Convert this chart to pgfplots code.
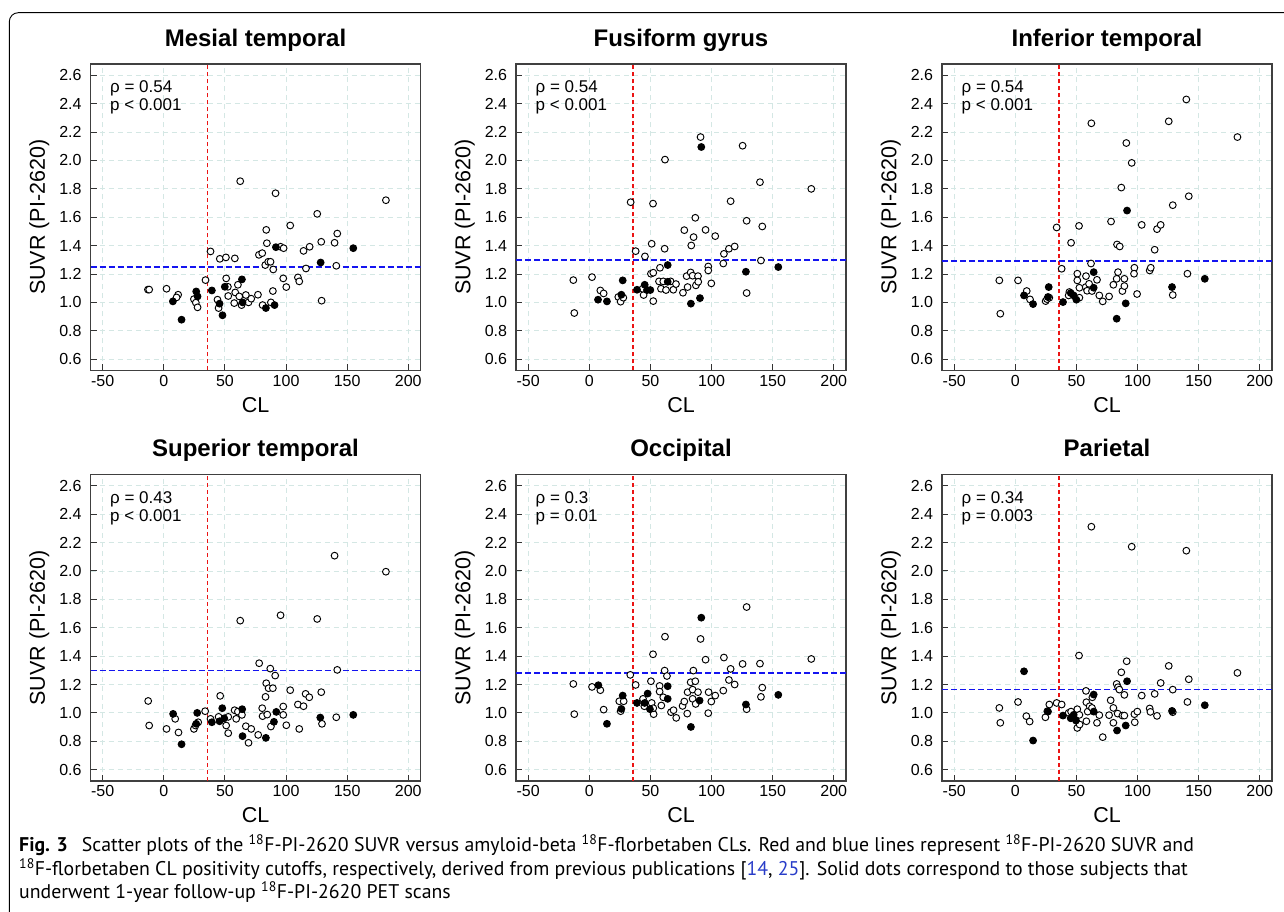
\documentclass[border=0pt]{standalone}
\usepackage{fontspec}
\setmainfont{Liberation Sans}
\newfontfamily\capfont{PT Sans}
\usepackage{pgfplots}
\pgfplotsset{compat=1.18}

\definecolor{gridc}{RGB}{212,231,228}
\definecolor{cutred}{RGB}{235,20,20}
\definecolor{cutblue}{RGB}{20,20,240}
\definecolor{refblue}{RGB}{40,60,200}

\newcommand{\tickf}{\fontsize{16}{19}\selectfont}
\newcommand{\statf}{\fontsize{17}{20}\selectfont}
\newcommand{\labf}{\fontsize{21.5}{25}\selectfont}
\newcommand{\titf}{\fontsize{24}{28}\selectfont\bfseries}
\newcommand{\capf}{\capfont\fontsize{19.8}{24}\selectfont}

\pgfplotsset{
  panel/.style={
    scale only axis, width=330pt, height=306.5pt,
    anchor=south west,
    xmin=-60, xmax=210, ymin=0.52, ymax=2.68,
    xtick={-50,0,50,100,150,200},
    ytick={0.6,0.8,1.0,1.2,1.4,1.6,1.8,2.0,2.2,2.4,2.6},
    yticklabel={\pgfmathprintnumber[fixed,fixed zerofill,precision=1]{\tick}},
    /pgf/number format/assume math mode=true,
    xtick pos=bottom, ytick pos=left,
    tick align=inside, major tick length=6pt,
    tick style={line width=1pt, color=black!80},
    axis line style={line width=1.3pt, color=black!75},
    ticklabel style={font=\tickf, inner sep=0pt},
    xticklabel style={anchor=north, yshift=-4.6pt},
    yticklabel style={anchor=east, xshift=-8.8pt},
    grid=major,
    major grid style={dash pattern=on 5pt off 4pt, color=gridc, line width=0.9pt},
    title style={at={(axis description cs:0.5,1)}, anchor=base, yshift=11.5pt, font=\titf},
    xlabel={CL}, ylabel={SUVR (PI-2620)},
    xlabel style={at={(axis description cs:0.5,-0.137)}, anchor=base, font=\labf},
    ylabel style={at={(axis description cs:-0.1385,0.5)}, anchor=base, font=\labf},
  },
  openm/.style={only marks, mark=*, mark size=3.4pt,
    mark options={draw=black, fill=white, line width=0.95pt}},
  fillm/.style={only marks, mark=*, mark size=3.4pt,
    mark options={draw=black, fill=black, line width=0.95pt}},
}

% red CL cutoff (vertical) and blue SUVR cutoff (horizontal)
\newcommand{\cutoffs}[2]{%
  \addplot[draw=cutred, line width=1.5pt, dash pattern=on 4pt off 3pt, forget plot] coordinates {(#1,0.52)(#1,2.68)};
  \addplot[draw=cutblue, line width=1.5pt, dash pattern=on 6pt off 3pt, forget plot] coordinates {(-60,#2)(210,#2)};
}
\newcommand{\stats}[2]{%
  \node[anchor=base west, font=\statf, inner sep=0pt, xshift=19.5pt, yshift=-28.7pt] at (rel axis cs:0,1) {ρ = #1};
  \node[anchor=base west, font=\statf, inner sep=0pt, xshift=19.5pt, yshift=-46.7pt] at (rel axis cs:0,1) {p #2};
}

\begin{document}
\begin{tikzpicture}[x=1pt,y=1pt]
\useasboundingbox (0,0) rectangle (1284,912);
\draw[line width=0.9pt, rounded corners=9pt] (9.3,-5) -- (9.3,899.3) -- (1295,899.3);

% ---------- Mesial temporal
\begin{axis}[panel, at={(90.5pt,541.5pt)}, title={Mesial temporal}]
\cutoffs{35.9}{1.25}
\addplot[openm] coordinates {
(-13,1.09)(-12,1.09)(2.2,1.096)(11.7,1.054)(10.4,1.035)(24.6,1.023)(26.2,0.998)(27.6,0.965)
(34.1,1.157)(38.2,1.359)(45.8,1.307)(50.8,1.317)(58.1,1.31)(43.9,1.019)(44.8,0.96)(51,1.169)
(52.4,1.11)(52.7,1.045)(57.6,0.995)(58.4,1.07)(60.6,1.124)(62.5,1.854)(61.7,1.042)(63.6,0.981)
(67.1,1.052)(69.3,1.0)(71.5,1.026)(77,1.054)(77.8,1.335)(80.5,1.347)(80.8,0.981)(83,1.263)
(83.8,1.511)(84.3,1.417)(85.4,1.286)(87.3,1.286)(87.6,1.0)(89.2,1.08)(89.5,1.232)(91.4,1.769)
(95.5,1.392)(98,1.382)(97.7,1.169)(100.2,1.108)(103.4,1.542)(109.7,1.176)(110.8,1.148)(114.3,1.363)
(116.3,1.239)(119.3,1.392)(125.5,1.624)(128.8,1.427)(129.1,1.012)(139.7,1.42)(141.9,1.485)
(141.1,1.258)(181.7,1.72)};
\addplot[fillm] coordinates {
(7.4,1.007)(14.5,0.878)(26.5,1.077)(27.6,1.042)(39.3,1.084)(45.6,0.991)(48.0,0.909)(49.9,1.11)
(63.9,1.162)(64.4,1.0)(83.5,0.96)(90.6,0.981)(91.7,1.389)(128.3,1.281)(155,1.382)};
\stats{0.54}{< 0.001}
\end{axis}

% ---------- Fusiform gyrus
\begin{axis}[panel, at={(516pt,541.5pt)}, title={Fusiform gyrus}]
\cutoffs{35.9}{1.30}
\addplot[openm] coordinates {
(-13.1,1.157)(-12.3,0.925)(2.2,1.178)(9,1.084)(11.7,1.063)(23.7,1.038)(25.6,1.005)(27.8,1.033)
(33.8,1.706)(37.9,1.361)(45.5,1.324)(44.4,1.052)(43.6,1.096)(51,1.413)(52.1,1.696)(50.4,1.202)
(52.3,1.209)(52.3,1.009)(57.8,1.244)(57,1.148)(58.6,1.096)(60.5,1.148)(62.7,1.087)(66.5,1.148)
(68.7,1.089)(70.9,1.129)(61.6,1.378)(61.9,2.006)(76.6,1.068)(77.7,1.509)(80.4,1.108)(79.6,1.185)
(82.9,1.211)(84.5,1.188)(83.4,1.401)(85.3,1.46)(86.7,1.596)(87.2,1.12)(88.9,1.185)(89.1,1.145)
(91,2.165)(95.1,1.511)(97.3,1.253)(97.3,1.225)(99.8,1.134)(103,1.467)(110.1,1.342)(109.6,1.274)
(114.2,1.378)(118.9,1.394)(115.6,1.713)(125.4,2.104)(128.7,1.575)(128.7,1.066)(139.6,1.847)
(141.5,1.535)(140.4,1.295)(181.6,1.8)};
\addplot[fillm] coordinates {
(7.1,1.019)(14.4,1.007)(26.2,1.054)(27.3,1.155)(39,1.089)(45.3,1.124)(47.2,1.087)(49.9,1.087)
(64.1,1.263)(64.1,1.145)(83.1,0.991)(90.5,1.03)(91.6,2.095)(128.1,1.216)(154.6,1.249)};
\stats{0.54}{< 0.001}
\end{axis}

% ---------- Inferior temporal
\begin{axis}[panel, at={(942pt,541.5pt)}, title={Inferior temporal}]
\cutoffs{35.9}{1.29}
\addplot[openm] coordinates {
(-13.1,1.155)(-12.3,0.92)(2.2,1.155)(9.3,1.08)(12,1.021)(24.8,1.009)(25.9,1.023)(27.8,1.033)
(33.8,1.528)(37.9,1.237)(45.6,1.42)(44.2,1.073)(43.6,1.049)(50.7,1.202)(50.7,1.155)(52.1,1.539)
(52.4,1.103)(52.4,1.033)(57.8,1.185)(57.6,1.108)(58.7,1.082)(60.3,1.131)(61.9,1.274)(62.2,2.262)
(62.7,1.08)(66.8,1.159)(68.7,1.049)(71.5,1.007)(76.7,1.042)(78.3,1.57)(80.2,1.124)(82.9,1.166)
(84,1.213)(83.2,1.408)(85.4,1.394)(86.7,1.809)(87.6,1.08)(89.2,1.166)(89.2,1.115)(90.8,2.123)
(95.2,1.983)(97.4,1.244)(97.1,1.202)(99.6,1.059)(103.4,1.546)(109.9,1.225)(110.8,1.244)(114,1.371)
(115.9,1.516)(118.9,1.546)(125.5,2.276)(128.8,1.685)(128.8,1.052)(139.9,2.43)(141.9,1.748)
(140.8,1.202)(181.7,2.165)};
\addplot[fillm] coordinates {
(7.1,1.049)(14.5,0.988)(27.3,1.108)(26.7,1.038)(39,1.002)(45.3,1.066)(47.7,1.049)(49.9,1.019)
(64.1,1.213)(64.1,1.103)(82.9,0.885)(90.3,0.993)(91.4,1.647)(128.2,1.108)(155,1.166)};
\stats{0.54}{< 0.001}
\end{axis}

% ---------- Superior temporal
\begin{axis}[panel, at={(90.5pt,131pt)}, title={Superior temporal}]
\cutoffs{35.9}{1.30}
\addplot[openm] coordinates {
(-12.8,1.084)(-12,0.911)(2.2,0.887)(9.3,0.958)(12,0.862)(24.6,0.887)(25.9,0.911)(28.1,0.934)
(33.8,1.012)(38.2,0.958)(46.1,1.12)(44.8,0.972)(51,0.911)(52.7,0.857)(52.7,0.972)(57.9,1.019)
(59.2,0.958)(60.6,1.009)(63.9,0.986)(62.5,1.65)(67.1,0.906)(69.3,0.789)(71.5,0.887)(77.2,0.845)
(78,1.35)(80.5,1.033)(80.8,0.977)(83.2,1.113)(83.8,1.209)(84.6,0.988)(85.7,1.174)(87.1,1.312)
(87.6,0.904)(89.2,1.174)(91.1,1.263)(95.5,1.688)(97.7,1.045)(97.7,0.986)(100.2,0.913)(103.4,1.16)
(109.7,1.059)(110.8,0.887)(114.3,1.047)(116,1.134)(119,1.11)(125.5,1.662)(128.8,1.146)(129.4,0.923)
(139.7,2.108)(141.9,1.303)(141.1,0.969)(181.7,1.995)};
\addplot[fillm] coordinates {
(7.6,0.993)(14.5,0.779)(26.5,0.923)(27.3,1.0)(39.3,0.934)(45.6,0.941)(47.8,1.033)(49.4,0.962)
(64.1,1.026)(64.4,0.836)(83.5,0.824)(90.1,0.937)(92,1.007)(128,0.967)(155,0.986)};
\stats{0.43}{< 0.001}
\end{axis}

% ---------- Occipital
\begin{axis}[panel, at={(516pt,131pt)}, title={Occipital}]
\cutoffs{35.9}{1.28}
\addplot[openm] coordinates {
(-13.1,1.204)(-12.3,0.991)(2.2,1.183)(9,1.16)(11.7,1.023)(24.5,1.082)(25.6,1.012)(28.1,1.082)
(33.5,1.268)(37.9,1.197)(43.9,1.099)(45,1.047)(50.4,1.223)(51,1.07)(52.1,1.413)(52.6,0.991)
(52.3,1.033)(57.5,1.19)(57.5,1.15)(58.9,1.052)(60.5,1.11)(61.6,1.298)(61.9,1.537)(63.5,1.26)
(66.8,1.005)(68.9,1.019)(71.1,0.965)(76.3,1.049)(77.7,1.08)(80.1,0.995)(80.4,1.146)(82.9,1.216)
(84.5,1.164)(85.1,1.298)(86.7,1.223)(84.5,1.099)(87,1.063)(88.9,1.146)(91,1.521)(95.1,1.375)
(97.3,0.998)(97.6,1.146)(99.8,1.08)(103,1.122)(110.1,1.39)(109.6,1.157)(114.2,1.232)(115.6,1.31)
(118.9,1.2)(125.4,1.345)(128.7,1.746)(128.7,1.026)(139.6,1.347)(141.5,1.178)(140.4,1.113)
(181.6,1.38)};
\addplot[fillm] coordinates {
(7.4,1.195)(14.4,0.923)(26.2,1.028)(27.3,1.122)(39,1.07)(45.3,1.07)(47.7,1.136)(49.6,1.026)
(64.1,1.188)(64.1,1.099)(83.1,0.901)(90.2,1.087)(91.6,1.671)(128.1,1.059)(154.6,1.127)};
\stats{0.3}{= 0.01}
\end{axis}

% ---------- Parietal
\begin{axis}[panel, at={(942pt,131pt)}, title={Parietal}]
\cutoffs{35.9}{1.165}
\addplot[openm] coordinates {
(-13.1,1.035)(-12.3,0.93)(2.2,1.077)(9,0.977)(11.7,0.939)(24.6,0.969)(26.2,1.012)(27.8,1.059)
(33.8,1.07)(37.9,1.059)(43.6,1.0)(45.6,1.009)(46.6,0.969)(50.7,1.026)(50.7,0.894)(52.4,0.986)
(52.6,0.918)(52.1,1.404)(57.8,1.155)(58.1,1.075)(58.1,0.941)(59.2,1.009)(60.8,1.047)(62.2,2.312)
(63,1.11)(62.7,1.035)(66.8,0.93)(68.7,0.984)(71.5,0.829)(76.7,0.984)(78,1.089)(80.2,1.035)
(80.2,0.93)(82.9,1.204)(84,1.181)(83.7,0.995)(86.7,1.286)(87.6,0.981)(85.1,1.164)(89.2,1.127)
(89.2,0.981)(91.1,1.364)(95.2,2.171)(97.7,0.934)(97.4,0.991)(99.8,1.009)(103.4,1.122)(109.9,1.031)
(110.5,1.007)(114,1.134)(115.9,0.979)(118.9,1.211)(125.5,1.331)(128.8,1.164)(128.8,1.005)
(139.9,2.143)(141.9,1.237)(140.8,1.077)(181.7,1.282)};
\addplot[fillm] coordinates {
(7.1,1.293)(14.5,0.805)(26.7,1.009)(39,0.981)(45.3,0.962)(47.7,0.986)(49.6,0.946)(64.1,1.129)
(64.1,1.009)(83.2,0.876)(90.3,0.911)(91.4,1.223)(128.2,1.014)(155,1.054)};
\stats{0.34}{= 0.003}
\end{axis}

% ---------- caption
\node[anchor=base west, inner sep=0pt, font=\capf] at (19,60) {\textbf{Fig. 3}\hspace{0.7em}Scatter plots of the \textsuperscript{18}F-PI-2620 SUVR versus amyloid-beta \textsuperscript{18}F-florbetaben CLs. Red and blue lines represent \textsuperscript{18}F-PI-2620 SUVR and};
\node[anchor=base west, inner sep=0pt, font=\capf] at (19,36) {\textsuperscript{18}F-florbetaben CL positivity cutoffs, respectively, derived from previous publications [\textcolor{refblue}{14}, \textcolor{refblue}{25}]. Solid dots correspond to those subjects that};
\node[anchor=base west, inner sep=0pt, font=\capf] at (19,13) {underwent 1-year follow-up \textsuperscript{18}F-PI-2620 PET scans};
\end{tikzpicture}
\end{document}
